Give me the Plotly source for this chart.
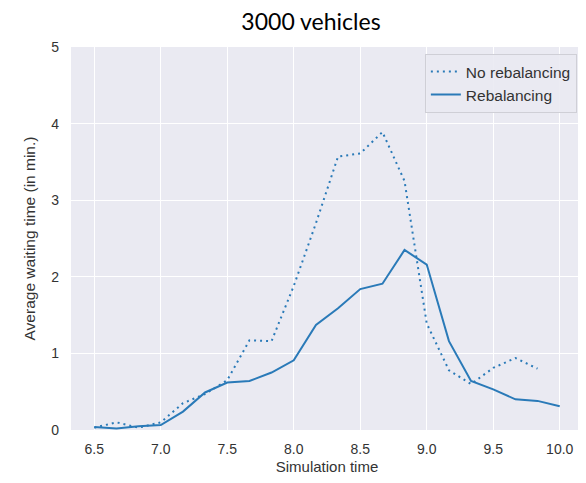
import plotly.graph_objects as go

times = [6.5, 6.667, 6.833, 7.0, 7.167, 7.333, 7.5, 7.667, 7.833, 8.0, 8.167,
         8.333, 8.5, 8.667, 8.833, 9.0, 9.167, 9.333, 9.5, 9.667, 9.833, 10.0]
no_rebalancing = [0.03, 0.10, 0.03, 0.10, 0.35, 0.47, 0.65, 1.17, 1.16, 1.88, 2.70,
                  3.57, 3.61, 3.89, 3.25, 1.39, 0.78, 0.60, 0.81, 0.94, 0.80, None]
rebalancing = [0.04, 0.02, 0.05, 0.065, 0.24, 0.49, 0.62, 0.64, 0.75, 0.91, 1.37,
               1.59, 1.84, 1.91, 2.35, 2.16, 1.16, 0.64, 0.53, 0.40, 0.38, 0.31]
x_ticks = [6.5, 7.0, 7.5, 8.0, 8.5, 9.0, 9.5, 10.0]
y_ticks = [0, 1, 2, 3, 4, 5]

color = "#2a7ab8"
fig = go.Figure()
fig.add_trace(go.Scatter(x=times, y=no_rebalancing, mode="lines", name="No rebalancing",
                         line=dict(color=color, width=2, dash="2px,4px")))
fig.add_trace(go.Scatter(x=times, y=rebalancing, mode="lines", name="Rebalancing",
                         line=dict(color=color, width=2)))

fig.update_layout(
    width=578, height=475,
    margin=dict(l=63, r=3, t=39, b=53),
    paper_bgcolor="white", plot_bgcolor="#EAEAF2",
    font=dict(family="Liberation Sans, Arial", size=14, color="#333333"),
    title=dict(text="3000 vehicles", x=303/578, xanchor="center", y=1-14/475, yanchor="middle",
               font=dict(family="Lato, Open Sans", size=23, color="black")),
    legend=dict(x=0.988, y=0.982, xanchor="right", yanchor="top",
                bgcolor="rgba(234,234,242,0.9)", bordercolor="#cfcfd6", borderwidth=1,
                font=dict(size=15.5, color="#333333")),
    showlegend=True,
)
fig.update_xaxes(range=[6.325, 10.175], tickvals=x_ticks, ticktext=[f"{v:.1f}" for v in x_ticks],
                 showgrid=True, gridcolor="white", gridwidth=1.2, zeroline=False,
                 title=dict(text="Simulation time", font=dict(size=15), standoff=5),
                 ticks="", showline=False, ticklabelstandoff=9)
fig.update_yaxes(range=[0, 5], tickvals=y_ticks, showgrid=True, gridcolor="white", gridwidth=1.2,
                 zeroline=False, title=dict(text="Average waiting time (in min.)", font=dict(size=15.5), standoff=11),
                 ticks="", showline=False, ticklabelstandoff=11)

fig.write_html("out.html")
